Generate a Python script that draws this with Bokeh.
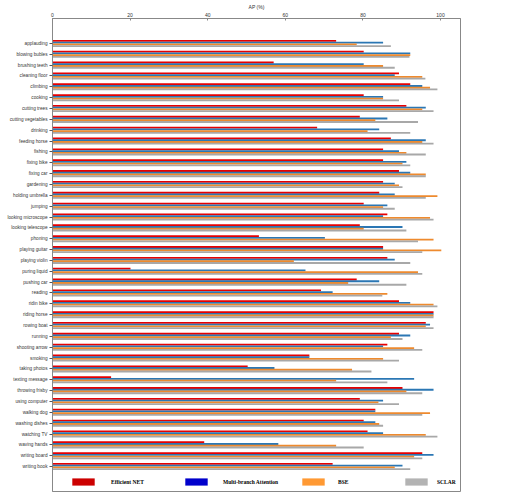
from bokeh.plotting import figure
from bokeh.models import ColumnDataSource, FactorRange, Range1d, Legend, LegendItem
from bokeh.transform import dodge
from bokeh.embed import file_html
from bokeh.resources import INLINE

categories = [
    "applauding", "blowing bubles", "brushing teeth", "cleaning floor", "climbing",
    "cooking", "cutting trees", "cutting vegetables", "drinking", "feeding horse",
    "fishing", "fixing bike", "fixing car", "gardening", "holding umbrella",
    "jumping", "looking microscope", "looking telescope", "phoning", "playing guitar",
    "playing violin", "puring liquid", "pushing car", "reading", "ridin bike",
    "riding horse", "rowing boat", "running", "shooting arrow", "smoking",
    "taking photos", "texting message", "throwing frisby", "using computer", "walking dog",
    "washing dishes", "watching TV", "waving hands", "writing board", "writing book",
]

efficient_net = [73.1, 80.2, 57.0, 89.3, 92.2, 80.2, 91.2, 79.2, 68.2, 87.2,
                 85.2, 85.2, 89.3, 85.2, 84.2, 80.2, 86.3, 79.2, 53.2, 85.2,
                 86.3, 20.1, 78.4, 69.2, 89.3, 98.2, 96.2, 89.3, 86.3, 66.2,
                 50.3, 15.1, 90.2, 79.2, 83.2, 80.2, 81.2, 39.1, 95.3, 72.2]
multi_branch = [85.2, 92.2, 80.2, 88.2, 95.3, 85.2, 96.2, 86.3, 84.2, 96.2,
                89.3, 91.2, 92.2, 88.2, 88.2, 86.3, 85.2, 90.2, 70.2, 85.2,
                88.2, 65.2, 84.2, 72.2, 92.2, 98.2, 97.3, 92.2, 85.2, 66.2,
                57.2, 93.2, 98.2, 85.2, 83.2, 83.2, 85.2, 58.2, 98.2, 90.2]
bse = [78.4, 92.2, 85.2, 95.3, 97.3, 85.2, 95.3, 83.2, 81.2, 95.3,
       91.2, 90.2, 96.2, 89.3, 99.2, 85.2, 97.3, 80.2, 98.2, 100.2,
       62.2, 94.2, 76.2, 86.3, 98.2, 98.2, 96.2, 87.2, 93.2, 85.2,
       77.2, 73.1, 91.2, 84.0, 97.3, 84.2, 96.2, 73.1, 93.2, 88.2]
sclar = [87.2, 92.0, 88.2, 96.1, 99.2, 89.3, 98.2, 94.2, 92.2, 98.2,
         96.2, 92.2, 96.2, 90.2, 96.2, 88.2, 98.2, 91.2, 94.2, 95.3,
         92.2, 95.3, 91.2, 85.0, 99.2, 98.2, 98.2, 90.2, 95.3, 89.3,
         82.2, 86.3, 95.3, 89.3, 95.3, 85.2, 99.2, 80.2, 95.3, 92.2]

series_names = ["Efficient NET", "Multi-branch Attention", "BSE", "SCLAR"]
x_ticks = [0, 20, 40, 60, 80, 100]

bar_colors = ["#E60000", "#2B77B4", "#EE8A2E", "#A8A8A8"]
legend_colors = ["#CC0000", "#0000CC", "#FF9933", "#B3B3B3"]

source = ColumnDataSource(dict(cat=categories, en=efficient_net, mb=multi_branch,
                               bse=bse, sc=sclar))

p = figure(width=500, height=495,
           y_range=FactorRange(factors=categories[::-1], range_padding=1.8,
                               range_padding_units="absolute"),
           x_range=Range1d(0, 105.15),
           x_axis_location="above",
           output_backend="svg", toolbar_location=None,
           min_border_left=52, min_border_right=40,
           min_border_top=0, min_border_bottom=4)

offsets = [0.24, 0.08, -0.08, -0.24]
cols = ["en", "mb", "bse", "sc"]
for col, off, c in zip(cols, offsets, bar_colors):
    p.hbar(y=dodge("cat", off, range=p.y_range), left=0, right=col, height=0.17,
           source=source, fill_color=c, line_color=None)

# legend (custom colours) via zero-width helper renderers
legend_x = [17, 130, 247, 350]
legend_standoff = [14, 13, 11, 7]
for name, c, lx, so in zip(series_names, legend_colors, legend_x, legend_standoff):
    r = p.hbar(y=[categories[0]], left=[0], right=[0], height=0.01,
               fill_color=c, line_color=None)
    leg = Legend(items=[LegendItem(label=name, renderers=[r])], location=(lx, 5),
                 orientation="horizontal", glyph_width=28, glyph_height=9,
                 label_height=9, label_standoff=so, padding=0, margin=0,
                 border_line_alpha=0, background_fill_alpha=0,
                 label_text_font="Liberation Serif", label_text_font_style="bold",
                 label_text_font_size="5.5px", label_text_color="#000000")
    p.add_layout(leg, "center")

p.xgrid.visible = False
p.ygrid.visible = False
p.outline_line_color = "#888888"
p.outline_line_width = 1

p.xaxis.ticker = x_ticks
p.xaxis.axis_label = "AP (%)"
p.xaxis.axis_label_text_font_size = "5px"
p.xaxis.axis_label_text_font_style = "normal"
p.xaxis.axis_label_text_font = "Liberation Sans"
p.xaxis.axis_label_text_color = "#333333"
p.xaxis.axis_label_standoff = 0
p.xaxis.major_label_text_font_size = "5px"
p.xaxis.major_label_text_font = "Liberation Sans"
p.xaxis.major_label_text_color = "#333333"
p.xaxis.major_label_standoff = 2
p.xaxis.major_tick_in = 2
p.xaxis.major_tick_out = 0
p.xaxis.minor_tick_line_color = None
p.xaxis.axis_line_color = "#888888"
p.xaxis.major_tick_line_color = "#888888"

p.yaxis.major_label_text_font_size = "4.7px"
p.yaxis.major_label_text_font = "Liberation Sans"
p.yaxis.major_label_text_color = "#333333"
p.yaxis.major_label_standoff = 2
p.yaxis.major_tick_in = 0
p.yaxis.major_tick_out = 3
p.yaxis.axis_line_color = "#888888"
p.yaxis.major_tick_line_color = "#555555"

open("out.html", "w").write(file_html(p, INLINE))
